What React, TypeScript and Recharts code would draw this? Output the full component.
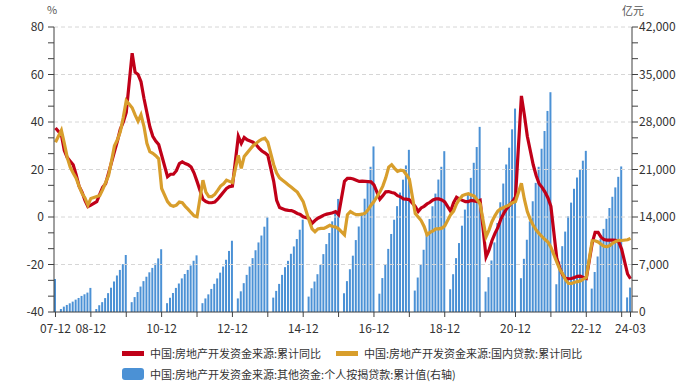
import { ComposedChart, Bar, Line, XAxis, YAxis, ReferenceLine } from 'recharts';

// months from 07-12 to 24-03 (January is not published)
const months: string[] = [];
for (let y = 2007; y <= 2024; y++) {
  for (let m = 1; m <= 12; m++) {
    if (y === 2007 && m < 12) continue;
    if (y === 2024 && m > 3) break;
    months.push(`${String(y % 100).padStart(2, '0')}-${String(m).padStart(2, '0')}`);
  }
}

// 个人按揭贷款:累计值 (亿元)
const mortgage = [
  4850,
  null, 440, 790, 1040, 1280, 1530, 1820, 2070, 2370, 2610, 2860, 3550,
  null, 440, 1000, 1450, 2050, 2780, 3580, 4500, 5380, 6200, 7050, 8400,
  null, 1450, 2200, 2950, 3750, 4550, 5200, 5850, 6500, 7150, 7900, 9250,
  null, 1300, 2100, 2800, 3550, 4200, 4950, 5600, 6200, 6850, 7550, 8350,
  null, 1300, 2000, 2600, 3400, 4150, 4950, 5800, 6700, 7700, 9000, 10500,
  null, 2000, 3050, 4250, 5470, 6700, 7940, 9100, 10250, 11270, 12570, 13950,
  null, 2120, 3110, 4140, 5470, 6610, 7540, 8580, 9660, 10750, 12130, 13610,
  null, 2270, 3500, 4490, 5570, 6950, 8530, 10010, 11640, 13360, 14840, 16660,
  null, 2760, 4550, 6300, 8300, 10600, 12600, 14600, 16700, 19000, 21400, 24400,
  null, 2700, 5000, 7000, 9300, 11500, 13600, 15600, 17600, 19500, 21600, 23900,
  null, 3160, 5080, 7050, 9170, 11640, 13700, 15580, 17450, 19520, 21400, 23700,
  null, 3350, 5570, 7940, 10160, 12720, 15090, 17300, 19770, 21990, 24310, 27280,
  null, 3010, 5130, 7590, 10260, 13110, 16170, 18930, 21740, 24210, 26920, 29980,
  null, 4980, 7840, 10650, 13360, 16320, 19030, 21400, 24060, 26670, 29630, 32390,
  null, 4090, 7450, 9700, 11850, 14100, 16120, 18160, 19820, 21050, 22300, 23750,
  null, 3450, 5900, 8180, 10780, 12250, 13740, 15330, 16980, 18360, 19920, 21450,
  null, 2150, 3600,
];

// 资金来源:累计同比 (%)
const totalYoY = [
  37.5,
  null, 34.6, 28, 25, 23.5, 22, 17.8, 13, 10.5, 7, 4.4, 5,
  null, 6.5, 9.5, 12.5, 14, 18.5, 23, 27.5, 32, 37, 40, 44,
  null, 69, 61, 60, 57, 50, 44, 38, 34, 32, 30.5, 26,
  null, 17, 18, 18, 19.5, 22.5, 23.2, 22.5, 22, 21, 18.5, 15,
  null, 7.5, 6.5, 6, 6, 6.3, 7.5, 9, 10.5, 12, 12.8, 13,
  null, 34, 31, 33.5, 32.5, 32, 31.5, 30.5, 29, 27.8, 27, 26,
  null, 15, 7, 4, 3.5, 3, 2.8, 2.7, 2.2, 1.5, 1.1, 0.1,
  null, -0.6, -2.7, -1.5, -0.5, 0.1, 0.8, 1.2, 1.5, 1.8, 2.3, 1.0,
  null, 15, 16.3, 16.3, 16, 15.5, 15, 15.1, 15, 14.9, 14.8, 13.5,
  null, 7.5, 9, 10.6, 10.7, 10.3, 10, 9, 8.5, 7.6, 7.5, 7.3,
  null, 4.4, 2.3, 3.8, 4.5, 5.5, 6.2, 7.2, 7.6, 7.6, 7.2, 6.4,
  null, 2.4, 6, 8.3, 7.5, 7, 6.5, 6.5, 7, 6.8, 6.5, 7,
  null, -16.8, -14, -10, -7, -4.5, -1, 1.5, 3.5, 5, 6.5, 8.5,
  null, 51, 43, 34, 28, 22, 17.5, 14, 12.5, 10.5, 8, 4.5,
  null, -17.5, -21.5, -24.5, -25.8, -26, -25.9, -25.5, -25, -24.9, -25.5, -25.9,
  null, -11, -6.5, -6.5, -8.5, -9.5, -9.7, -9.7, -9.7, -9.8, -10.5, -13.6,
  null, -24, -26,
];

// 国内贷款:累计同比 (%)
const loanYoY = [
  31.5,
  null, 36.5, 31, 25, 21, 18.5, 16.3, 13, 10, 8, 5, 7.8,
  null, 8.6, 9, 11.5, 14.5, 17.5, 23.5, 30, 32.5, 36, 42, 49,
  null, 46, 43, 40.3, 43, 38.2, 31, 27.5, 26.8, 25.8, 24.5, 12,
  null, 6.5, 5, 4.5, 5, 6.3, 6, 4.5, 3.2, 1.8, 0.5, 0.1,
  null, 15.5, 10.5, 8.6, 8.6, 9.5, 11.2, 13, 14, 15.5, 15, 14.5,
  null, 26, 20.5, 25.5, 27, 28.5, 30, 31, 32, 32.8, 33.2, 31.5,
  null, 22, 18.5, 16.5, 15.5, 14.5, 13.5, 12.5, 11.5, 10.5, 8.5, 6.5,
  null, -1.5, -5, -6.2, -5, -4.8, -4.8, -4.2, -3.5, -4, -4.2, -5,
  null, -7.5, 1, 2.3, 1.5, 1, 1, 1.2, 1.6, 3, 5, 6.5,
  null, 10.5, 13, 16.5, 21, 22, 20.5, 19.2, 19.7, 19.5, 17.8, 16,
  null, 1.5, 0, -1.5, -4, -7.5, -6.5, -5.8, -5, -5, -4.7, -3.8,
  null, 1, 2.5, 5.5, 7.5, 9, 9.5, 9.8, 9.3, 8.8, 7.2, 5.5,
  null, -8.3, -5.5, -2, 0.5, 2.5, 3.5, 4, 4.6, 5.2, 6, 6.5,
  null, 14.2, 7.5, 2.3, -1, -3.5, -5.5, -7, -8.3, -9.5, -10.5, -12.7,
  null, -19, -22, -24, -26.5, -28, -28, -27.5, -27.2, -26.9, -26.2, -25.5,
  null, -10, -10, -10.5, -11.5, -12.3, -12.5, -12, -11, -10.3, -9.8, -9.9,
  null, -9.6, -9,
];

const xLabels = ['07-12', '08-12', '10-12', '12-12', '14-12', '16-12', '18-12', '20-12', '22-12', '24-03'];
const leftLabels = [-40, -20, 0, 20, 40, 60, 80];
const rightLabels = [0, 7000, 14000, 21000, 28000, 35000, 42000];

const data = months.map((month, i) => ({
  month,
  mortgage: mortgage[i],
  total: totalYoY[i],
  loan: loanYoY[i],
}));

// tick marks: every December plus the last month
const xTicks = months.filter((m) => m.endsWith('-12') || m === months[months.length - 1]);

// minor ticks at thirds between labelled ticks
const withMinor = (major: number[]) => {
  const out: number[] = [];
  for (let i = 0; i < major.length - 1; i++) {
    const step = (major[i + 1] - major[i]) / 3;
    out.push(major[i], major[i] + step, major[i] + 2 * step);
  }
  out.push(major[major.length - 1]);
  return out;
};

const font = '"Noto Sans CJK SC", "Noto Sans", sans-serif';
const axisColor = '#404040';
const RED = '#C00018';
const GOLD = '#D89E2C';
const BLUE = '#4B91D5';

const isMajor = (v: number, list: number[]) => list.some((m) => Math.abs(m - v) < 1e-6);

export default function App() {
  return (
    <div style={{ position: 'absolute', left: 0, top: 0, width: 687, height: 388, background: '#fff', fontFamily: font }}>
      <div style={{ position: 'absolute', left: 47, top: 1, fontSize: 11, color: '#555' }}>%</div>
      <div style={{ position: 'absolute', left: 622, top: 2, fontSize: 11, color: '#555' }}>亿元</div>
      <ComposedChart
        width={687}
        height={340}
        data={data}
        margin={{ top: 27, right: 0, bottom: 0, left: 0 }}
        barCategoryGap={0}
      >
        <XAxis
          dataKey="month"
          ticks={xTicks}
          interval={0}
          height={28}
          tickSize={5}
          tickMargin={7}
          axisLine={{ stroke: axisColor }}
          tickLine={{ stroke: axisColor }}
          tick={{ fill: '#333', fontSize: 12, fontFamily: font }}
          tickFormatter={(v: string) => (xLabels.includes(v) ? v : '')}
        />
        <YAxis
          yAxisId="left"
          domain={[-40, 80]}
          ticks={withMinor(leftLabels)}
          interval={0}
          width={54}
          tickSize={6}
          tickMargin={4}
          axisLine={{ stroke: axisColor }}
          tickLine={{ stroke: axisColor }}
          tick={{ fill: '#333', fontSize: 12, fontFamily: font }}
          tickFormatter={(v: number) => (isMajor(v, leftLabels) ? String(Math.round(v)) : '')}
        />
        <YAxis
          yAxisId="right"
          orientation="right"
          domain={[0, 42000]}
          ticks={withMinor(rightLabels)}
          interval={0}
          width={55}
          tickSize={6}
          tickMargin={1}
          axisLine={{ stroke: axisColor }}
          tickLine={{ stroke: axisColor }}
          tick={{ fill: '#333', fontSize: 12, fontFamily: font }}
          tickFormatter={(v: number) => (isMajor(v, rightLabels) ? Math.round(v).toLocaleString('en-US') : '')}
        />
        {leftLabels.slice(1).map((v) => (
          <ReferenceLine key={v} yAxisId="left" y={v} stroke="#D6D6D6" strokeDasharray="4 3" />
        ))}
        <Bar yAxisId="right" dataKey="mortgage" fill={BLUE} barSize={2} isAnimationActive={false} />
        <Line
          yAxisId="left"
          dataKey="total"
          type="linear"
          stroke={RED}
          strokeWidth={3.2}
          dot={false}
          connectNulls
          isAnimationActive={false}
        />
        <Line
          yAxisId="left"
          dataKey="loan"
          type="linear"
          stroke={GOLD}
          strokeWidth={3.2}
          dot={false}
          connectNulls
          isAnimationActive={false}
        />
      </ComposedChart>

      <div style={{ position: 'absolute', left: 122, top: 351, width: 22, height: 5, background: RED }} />
      <div style={{ position: 'absolute', left: 150, top: 345, fontSize: 11, lineHeight: '16px', color: '#333' }}>
        中国:房地产开发资金来源:累计同比
      </div>
      <div style={{ position: 'absolute', left: 336, top: 351, width: 22, height: 5, background: GOLD }} />
      <div style={{ position: 'absolute', left: 364, top: 345, fontSize: 11, lineHeight: '16px', color: '#333' }}>
        中国:房地产开发资金来源:国内贷款:累计同比
      </div>
      <div style={{ position: 'absolute', left: 122, top: 368, width: 22, height: 12, borderRadius: 3, background: BLUE }} />
      <div style={{ position: 'absolute', left: 150, top: 366, fontSize: 11, lineHeight: '16px', color: '#333' }}>
        中国:房地产开发资金来源:其他资金:个人按揭贷款:累计值(右轴)
      </div>
    </div>
  );
}
